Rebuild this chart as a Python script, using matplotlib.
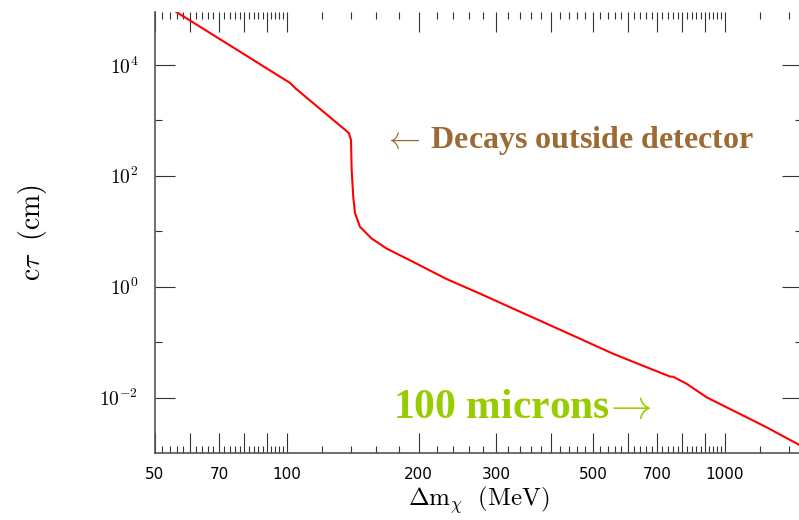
import numpy as np
import matplotlib
matplotlib.use("Agg")
import matplotlib.pyplot as plt
from matplotlib.ticker import FixedLocator, FixedFormatter, NullFormatter

plt.rcParams['mathtext.fontset'] = 'cm'

# mass splitting (MeV) and proper decay length c*tau (cm)
dm = [55.0, 101.7, 104.6, 134.3, 138.6, 140.1, 140.6, 141.8, 143.1, 146.9,
      156.2, 169.0, 194.4, 231.7, 276.1, 328.9, 391.9, 467.1, 556.3, 663.1,
      749.9, 762.6, 818.3, 909.1, 1009.0, 1122.0, 1246.0, 1476.0]
ctau = [9.8e4, 4730.0, 3790.0, 726.0, 590.0, 441.0, 126.0, 41.1, 21.1, 11.97,
        7.38, 4.87, 2.79, 1.37, 0.748, 0.401, 0.215, 0.115, 0.0615, 0.0352,
        0.0239, 0.0237, 0.01767, 0.0101, 0.00667, 0.00440, 0.00290, 0.00141]

x_major = [50, 60, 70, 80, 90, 100, 200, 300, 400, 500, 600, 700, 800, 900, 1000]
x_labeled = [50, 70, 100, 200, 300, 500, 700, 1000]
y_major = [1e-2, 1e0, 1e2, 1e4]
y_minor = [1e-1, 1e1, 1e3]

# minor ticks split each major step into fifths
x_minor = []
for lo, hi in zip(x_major[:-1] + [1000], x_major[1:] + [2000]):
    step = (hi - lo) / 5.0
    x_minor += [lo + k * step for k in range(1, 5)]

fig = plt.figure(figsize=(7.99, 5.20), dpi=100)
ax = fig.add_axes([155 / 799, 67 / 520, 647 / 799, 441 / 520])

ax.plot(dm, ctau, color='#ff0000', lw=1.5)

ax.set_xscale('log')
ax.set_yscale('log')
ax.set_xlim(50, 1500)
ax.set_ylim(1e-3, 9e4)

ax.xaxis.set_major_locator(FixedLocator(x_major))
ax.xaxis.set_minor_locator(FixedLocator(x_minor))
ax.xaxis.set_major_formatter(FixedFormatter(
    [str(v) if v in x_labeled else '' for v in x_major]))
ax.xaxis.set_minor_formatter(NullFormatter())

ax.yaxis.set_major_locator(FixedLocator(y_major))
ax.yaxis.set_minor_locator(FixedLocator(y_minor))
ax.yaxis.set_major_formatter(FixedFormatter(
    [r'$10^{%d}$' % int(np.log10(v)) for v in y_major]))
ax.yaxis.set_minor_formatter(NullFormatter())

ax.tick_params(which='both', direction='in', top=True, right=True,
               color='#333333', width=0.8)
ax.tick_params(which='major', length=14.5)
ax.tick_params(which='minor', length=5)
ax.tick_params(axis='x', which='major', pad=10, labelsize=11)
ax.tick_params(axis='y', which='major', pad=12, labelsize=14)

for side in ['left', 'bottom']:
    ax.spines[side].set_color('#555555')
    ax.spines[side].set_linewidth(1.2)
ax.spines['top'].set_visible(False)
ax.spines['right'].set_color('#555555')

ax.set_xlabel(r'$\Delta\mathrm{m}_\chi\ \ \mathrm{(MeV)}$', fontsize=18, labelpad=2)
ax.set_ylabel(r'$\mathrm{c}\tau\ \ \mathrm{(cm)}$', fontsize=20, labelpad=36)

serif = ['Liberation Serif', 'DejaVu Serif']
ax.text(165.7, 316, r'$\leftarrow\,$Decays outside detector', color='#9c6a32',
        fontsize=23, fontweight='bold', family=serif,
        ha='left', va='baseline')
ax.text(175, 0.00435, r'100 microns$\!\rightarrow$', color='#99cc00',
        fontsize=30, fontweight='bold', family=serif,
        ha='left', va='baseline')

fig.savefig('out.png', dpi=100)
